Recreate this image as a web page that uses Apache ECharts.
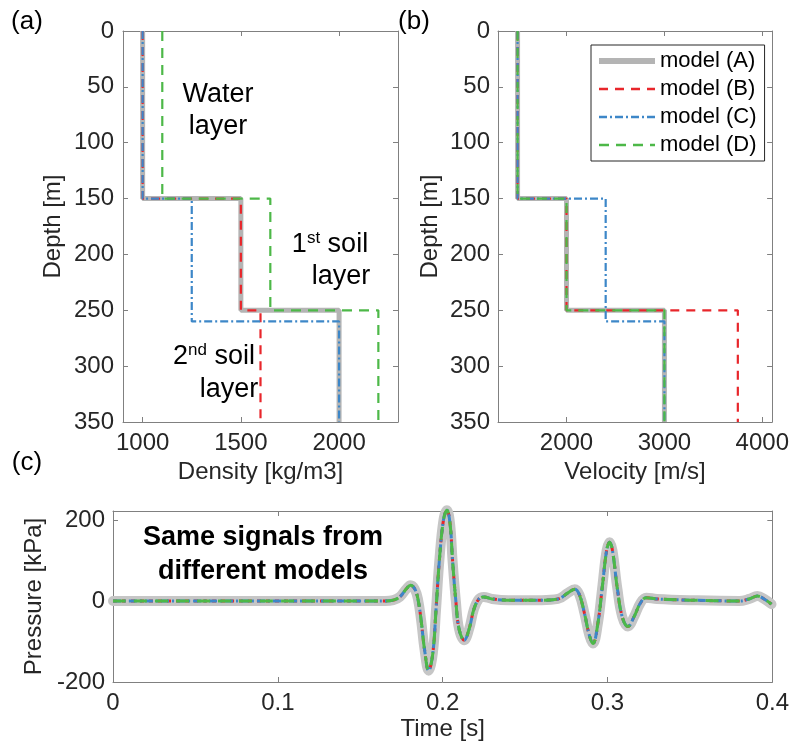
<!DOCTYPE html>
<html>
<head>
<meta charset="utf-8">
<script src="https://cdn.jsdelivr.net/npm/echarts@6/dist/echarts.min.js"></script>
<style>html,body{margin:0;padding:0;background:#fff;}#c{width:792px;height:749px;}</style>
</head>
<body>
<div id="c"></div>
<script>
// ---- data ----
const modelNames = ['model (A)', 'model (B)', 'model (C)', 'model (D)'];
const depthA = [0, 150, 250, 350];
const depthB = [0, 150, 250, 350];
const depthC = [0, 150, 260, 350];
const depthD = [0, 150, 250, 350];
const densityA = [1000, 1500, 2000];
const densityB = [1000, 1500, 1600];
const densityC = [1000, 1250, 2000];
const densityD = [1100, 1650, 2200];
const velocityA = [1500, 2000, 3000];
const velocityB = [1500, 2000, 3750];
const velocityC = [1500, 2400, 3000];
const velocityD = [1500, 2000, 3000];
const densityTicks = [1000, 1500, 2000];
const velocityTicks = [2000, 3000, 4000];
const depthTicks = [0, 50, 100, 150, 200, 250, 300, 350];
const timeTicks = [0, 0.1, 0.2, 0.3, 0.4];
const pressureTicks = [-200, 0, 200];
const timeS = [0, 0.05, 0.1, 0.15, 0.165, 0.170, 0.174, 0.178, 0.1805, 0.183, 0.185, 0.187, 0.189, 0.1915, 0.194, 0.196, 0.198, 0.2005, 0.2026, 0.2045, 0.206, 0.208, 0.210, 0.2131, 0.216, 0.219, 0.222, 0.225, 0.23, 0.24, 0.26, 0.27, 0.276, 0.2802, 0.283, 0.286, 0.289, 0.2912, 0.294, 0.297, 0.2995, 0.3013, 0.303, 0.306, 0.309, 0.3124, 0.316, 0.320, 0.3235, 0.33, 0.35, 0.38, 0.386, 0.391, 0.395, 0.3995];
const pressureKPa = [0, 0, 0, 0, 0, 2, 10, 30, 39, 30, 5, -50, -120, -172, -130, -20, 100, 200, 224, 190, 100, 0, -70, -97, -70, -20, 5, 10, 5, 2, 2, 5, 20, 29, 15, -30, -85, -105, -60, 40, 125, 145, 125, 30, -40, -63, -40, -5, 8, 5, 2, 0, 5, 12, 5, -8];

// ---- helpers ----
function steps(vals, bounds) {
  const pts = [];
  for (let i = 0; i < vals.length; i++) {
    pts.push([vals[i], bounds[i]]);
    pts.push([vals[i], bounds[i + 1]]);
  }
  return pts;
}
const FONT = 'Liberation Sans, Arial, Helvetica, sans-serif';
const TXT = '#262626';
const AX = '#808080';
const cRed = '#e8262b', cBlue = '#3d87c8', cGreen = '#4db848', cGray = '#b4b4b4';
const styles = [
  { color: cGray, width: 5, type: 'solid' },
  { color: cRed, width: 2.2, type: [9, 7] },
  { color: cBlue, width: 2.2, type: [8, 3, 2, 3] },
  { color: cGreen, width: 2.2, type: [10, 7] }
];
const stylesC = [
  { color: '#c6c6c6', width: 10, type: 'solid', join: 'round', cap: 'round' },
  { color: cRed, width: 3, type: [4, 5], join: 'round' },
  { color: cBlue, width: 3, type: [8, 3, 2, 3], join: 'round' },
  { color: cGreen, width: 3, type: [13, 8], join: 'round' }
];
const plain = v => String(+(+v).toFixed(2));

function mainAxis(o) {
  return Object.assign({
    type: 'value',
    axisLine: { show: true, onZero: false, lineStyle: { color: AX, width: 1 } },
    splitLine: { show: false },
    nameTextStyle: { color: TXT, fontSize: 24, fontFamily: FONT },
    nameLocation: 'middle'
  }, o);
}
function ticks(vals) {
  return { show: true, inside: true, length: 5, lineStyle: { color: AX }, customValues: vals };
}
function labels(vals, margin) {
  return { color: TXT, fontSize: 24, fontFamily: FONT, margin: margin, customValues: vals, formatter: plain };
}
function mirrorAxis(o) {
  return Object.assign({
    type: 'value',
    axisLine: { show: true, onZero: false, lineStyle: { color: AX, width: 1 } },
    splitLine: { show: false },
    axisLabel: { show: false }
  }, o);
}

const xAxes = [
  mainAxis({ gridIndex: 0, min: 900, max: 2300, position: 'bottom', name: 'Density [kg/m3]', nameGap: 28,
    axisTick: ticks(densityTicks), axisLabel: labels(densityTicks, 9) }),
  mirrorAxis({ gridIndex: 0, min: 900, max: 2300, position: 'top', axisTick: ticks(densityTicks) }),
  mainAxis({ gridIndex: 1, min: 1300, max: 4100, position: 'bottom', name: 'Velocity [m/s]', nameGap: 28,
    axisTick: ticks(velocityTicks), axisLabel: labels(velocityTicks, 9) }),
  mirrorAxis({ gridIndex: 1, min: 1300, max: 4100, position: 'top', axisTick: ticks(velocityTicks) }),
  mainAxis({ gridIndex: 2, min: 0, max: 0.4, position: 'bottom', name: 'Time [s]', nameGap: 35,
    axisTick: ticks(timeTicks), axisLabel: labels(timeTicks, 9) }),
  mirrorAxis({ gridIndex: 2, min: 0, max: 0.4, position: 'top', axisTick: ticks(timeTicks) })
];
const yAxes = [
  mainAxis({ gridIndex: 0, min: 0, max: 350, inverse: true, position: 'left', name: 'Depth [m]', nameGap: 58,
    axisTick: ticks(depthTicks), axisLabel: labels(depthTicks, 9) }),
  mirrorAxis({ gridIndex: 0, min: 0, max: 350, inverse: true, position: 'right', axisTick: ticks(depthTicks) }),
  mainAxis({ gridIndex: 1, min: 0, max: 350, inverse: true, position: 'left', name: 'Depth [m]', nameGap: 56,
    axisTick: ticks(depthTicks), axisLabel: labels(depthTicks, 8) }),
  mirrorAxis({ gridIndex: 1, min: 0, max: 350, inverse: true, position: 'right', axisTick: ticks(depthTicks) }),
  mainAxis({ gridIndex: 2, min: -200, max: 222, position: 'left', name: 'Pressure [kPa]', nameGap: 49,
    axisTick: ticks(pressureTicks), axisLabel: labels(pressureTicks, 8) }),
  mirrorAxis({ gridIndex: 2, min: -200, max: 222, position: 'right', axisTick: ticks(pressureTicks) })
];

const densities = [densityA, densityB, densityC, densityD];
const velocities = [velocityA, velocityB, velocityC, velocityD];
const depths = [depthA, depthB, depthC, depthD];
const series = [];
for (let i = 0; i < 4; i++) {
  series.push({ name: modelNames[i], type: 'line', xAxisIndex: 0, yAxisIndex: 0, symbol: 'none', animation: false,
    lineStyle: styles[i], itemStyle: { color: styles[i].color }, data: steps(densities[i], depths[i]), z: 2 + i });
}
for (let i = 0; i < 4; i++) {
  series.push({ name: modelNames[i], type: 'line', xAxisIndex: 2, yAxisIndex: 2, symbol: 'none', animation: false,
    lineStyle: styles[i], itemStyle: { color: styles[i].color }, data: steps(velocities[i], depths[i]), z: 2 + i });
}
const sig = timeS.map((t, k) => [t, pressureKPa[k]]);
for (let i = 0; i < 4; i++) {
  series.push({ name: modelNames[i], type: 'line', xAxisIndex: 4, yAxisIndex: 4, symbol: 'none', animation: false,
    smooth: 0.4, clip: false,
    lineStyle: stylesC[i], itemStyle: { color: stylesC[i].color }, data: sig, z: 2 + i });
}

const T = (text, x, y, size, weight) => ({
  type: 'text', x: x, y: y, z: 100,
  style: { text: text, fill: '#000', font: (weight || 'normal') + ' ' + size + 'px ' + FONT,
    align: 'center', verticalAlign: 'middle', textAlign: 'center', textVerticalAlign: 'middle' }
});
const sup = (base, s, rest, x, y) => ({
  type: 'text', x: x, y: y, z: 100,
  style: {
    text: '{n|' + base + '}{s|' + s + '}{n|' + rest + '}',
    align: 'center', verticalAlign: 'middle', textAlign: 'center', textVerticalAlign: 'middle',
    rich: {
      n: { fontSize: 27, fontFamily: FONT, fill: '#000', color: '#000', lineHeight: 30 },
      s: { fontSize: 17, fontFamily: FONT, fill: '#000', color: '#000', lineHeight: 17, verticalAlign: 'top' }
    }
  }
});

const legendData = modelNames.map((n, i) => ({
  name: n,
  lineStyle: { width: i === 0 ? 6 : 2.5 }
}));

const chart = echarts.init(document.getElementById('c'), null, { renderer: 'canvas' });
chart.setOption({
  animation: false,
  backgroundColor: '#fff',
  grid: [
    { left: 123, top: 31, width: 275, height: 391, containLabel: false },
    { left: 498, top: 31, width: 275, height: 391, containLabel: false },
    { left: 113, top: 511, width: 662, height: 171, containLabel: false }
  ],
  xAxis: xAxes,
  yAxis: yAxes,
  legend: {
    data: legendData, orient: 'vertical', left: 591, top: 45,
    itemWidth: 56, itemHeight: 14, itemGap: 6,
    padding: [5, 8, 5, 5],
    borderColor: '#262626', borderWidth: 1, backgroundColor: '#fff',
    itemStyle: { opacity: 0, borderWidth: 0 },
    textStyle: { color: '#000', fontSize: 22, fontFamily: FONT, lineHeight: 22 },
    selectedMode: false
  },
  graphic: [
    T('(a)', 27, 22, 26), T('(b)', 414, 22, 26), T('(c)', 27, 463, 26),
    T('Water', 218, 95, 27), T('layer', 218, 127, 27),
    sup('1', 'st', ' soil', 330, 245), T('layer', 341, 277, 27),
    sup('2', 'nd', ' soil', 214, 357), T('layer', 229, 390, 27),
    T('Same signals from', 263, 538, 27, 'bold'), T('different models', 263, 572, 27, 'bold')
  ],
  series: series
});
</script>
</body>
</html>
